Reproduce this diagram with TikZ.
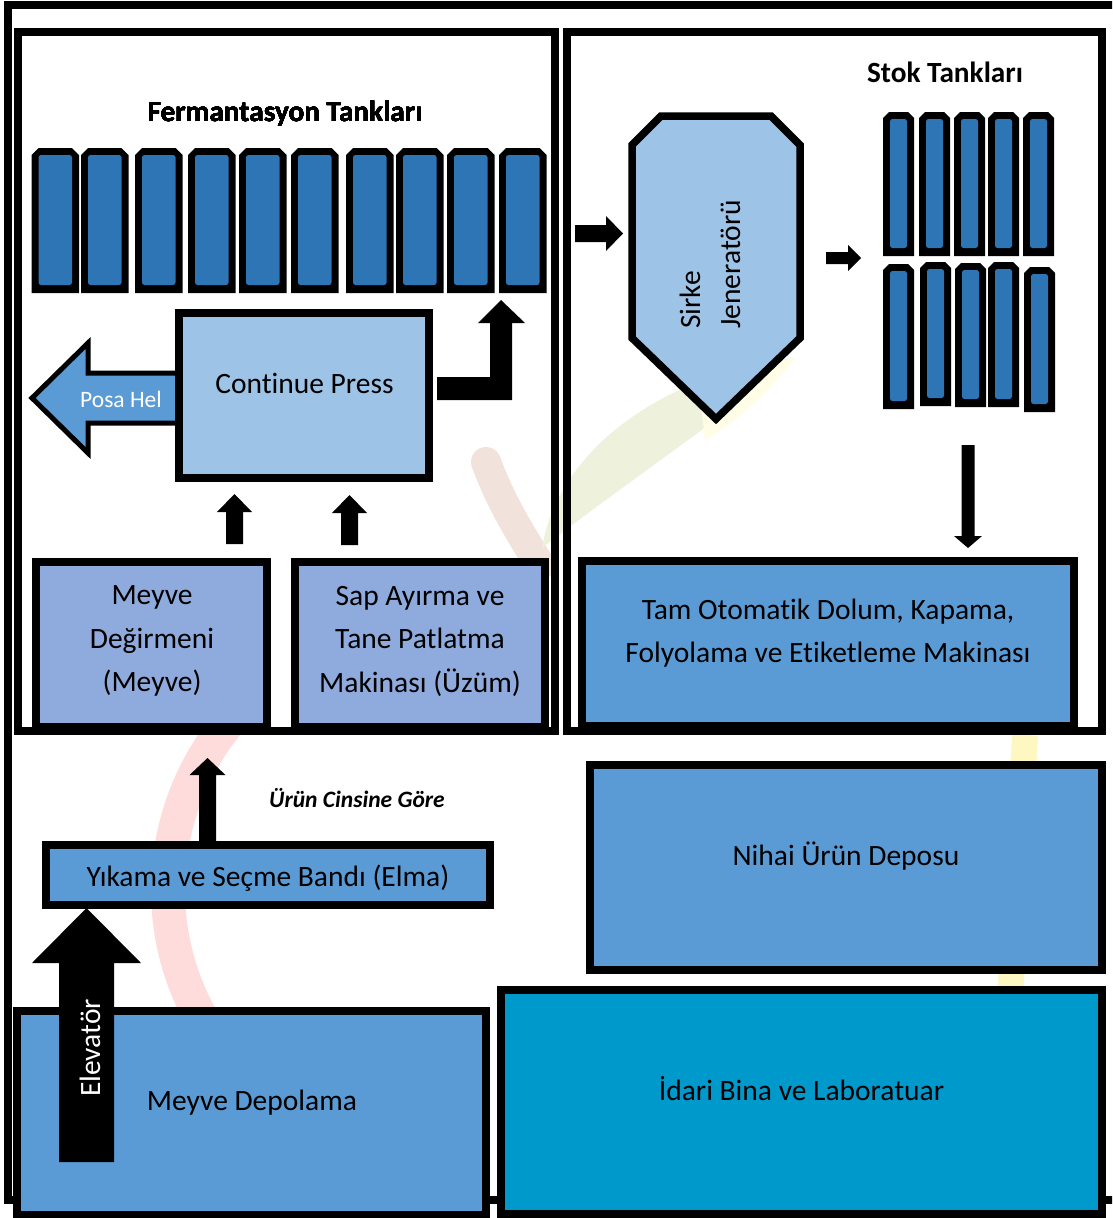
\documentclass[tikz,border=0pt]{standalone}
\usepackage{fontspec}
\setmainfont{Carlito}[Ligatures=CommonOff]
\definecolor{tankblue}{HTML}{2E75B6}
\definecolor{lightblue}{HTML}{9DC3E6}
\definecolor{midblue}{HTML}{5B9BD5}
\definecolor{lavblue}{HTML}{8FAADC}
\definecolor{cyanblue}{HTML}{0099CC}
\definecolor{wmpink}{HTML}{FFDCDC}
\definecolor{wmstem}{HTML}{F2E2DC}
\definecolor{wmgreen}{HTML}{EEF2DD}
\definecolor{wmcream}{HTML}{FFFDE6}
\definecolor{wmyellow}{HTML}{FFF7C2}
% tank: x y w h chamfer
\newcommand\tankshape[5]{%
  \fill[black] ({#1},{#2+#4}) -- ({#1},{#2+#5}) -- ({#1+#5},{#2}) -- ({#1+#3-#5},{#2}) -- ({#1+#3},{#2+#5}) -- ({#1+#3},{#2+#4}) -- cycle;
  \fill[tankblue, rounded corners=2.5] ({#1+7},{#2+#4-8}) rectangle ({#1+#3-7},{#2+7});}
% block arrows
\newcommand\upblk[6]{% x, ybottom, ytip, shaft, head, headlen
  \fill[black] ({#1-#4/2},{#2}) -- ({#1-#4/2},{#3+#6}) -- ({#1-#5/2},{#3+#6}) -- ({#1},{#3}) -- ({#1+#5/2},{#3+#6}) -- ({#1+#4/2},{#3+#6}) -- ({#1+#4/2},{#2}) -- cycle;}
\newcommand\rightblk[6]{% y, xleft, xtip, shaft, head, headlen
  \fill[black] ({#2},{#1-#4/2}) -- ({#3-#6},{#1-#4/2}) -- ({#3-#6},{#1-#5/2}) -- ({#3},{#1}) -- ({#3-#6},{#1+#5/2}) -- ({#3-#6},{#1+#4/2}) -- ({#2},{#1+#4/2}) -- cycle;}
\newcommand\downblk[6]{% x, ytop, ytip, shaft, head, headlen
  \fill[black] ({#1-#4/2},{#2}) -- ({#1-#4/2},{#3-#6}) -- ({#1-#5/2},{#3-#6}) -- ({#1},{#3}) -- ({#1+#5/2},{#3-#6}) -- ({#1+#4/2},{#3-#6}) -- ({#1+#4/2},{#2}) -- cycle;}
\begin{document}
\begin{tikzpicture}[x=1pt,y=-1pt,
  box/.style={draw=black, line width=8pt, rectangle, inner sep=0pt, outer sep=0pt},
  lbl/.style={font=\fontsize{29.5}{43.5}\selectfont, align=center, inner sep=0pt, text=black},
  ttl/.style={font=\bfseries\fontsize{29.3}{35}\selectfont, inner sep=0pt}]
\useasboundingbox (0,0) rectangle (1112,1218);
\clip (0,0) rectangle (1112,1218);
\fill[white] (0,0) rectangle (1112,1218);
% faint watermark logo
\draw[line width=34pt, wmpink] (430,890) ++(140:262) arc[start angle=140, end angle=228, radius=262];
\draw[line width=30pt, wmstem, line cap=round] (486,462) .. controls (500,500) and (518,530) .. (540,565);
\fill[wmgreen] (542,548) .. controls (560,440) and (680,370) .. (795,358) .. controls (720,420) and (630,480) .. (542,548) -- cycle;
\fill[wmcream] (700,395) .. controls (740,375) and (770,362) .. (795,358) .. controls (770,390) and (740,420) .. (705,440) -- cycle;
\draw[line width=26pt, wmyellow] (1025,735) -- (1010,1000);
% outer frame and sections
\draw[line width=8pt] (8,5) rectangle (1140,1200);
\node[box, minimum width=537, minimum height=699] (leftsec) at (286.5,381.5) {};
\node[box, minimum width=535, minimum height=699] (rightsec) at (834.5,381.5) {};
% fermentation tanks
\foreach \tx in {31.5,81,135,188,239,291,346,396,447,499}
  \tankshape{\tx}{148}{47.5}{145}{7}
\node[ttl, anchor=base] (fermttl) at (285,121) {Fermantasyon Tankları};
% press area
\filldraw[fill=midblue, draw=black, line width=5pt, line join=miter] (182,373) -- (88,373) -- (88,343) -- (32,398) -- (88,453) -- (88,423) -- (182,423);
\node[box, fill=lightblue, minimum width=250, minimum height=165] (cpress) at (304,395.5) {};
\node[font=\fontsize{23.5}{28}\selectfont, text=white, inner sep=0pt, anchor=base] (posalbl) at (121,407) {Posa Hel};
\node[lbl, anchor=base] (cpresslbl) at (304.5,393) {Continue Press};
\fill[black] (437,377) -- (490,377) -- (490,323) -- (478,323) -- (501,300) -- (525,323) -- (512,323) -- (512,400) -- (437,400) -- cycle;
\upblk{234.5}{544}{494}{17}{35}{18}
\upblk{349.5}{545}{495}{17}{35}{18}
\node[box, fill=lavblue, minimum width=231, minimum height=165] (mill) at (151.5,644.5) {};
\node[box, fill=lavblue, minimum width=250.5, minimum height=165] (sap) at (419.75,644.5) {};
\node[lbl] (milllbl) at (152,641) {Meyve\\Değirmeni\\(Meyve)};
\node[lbl] (saplbl) at (420,641) {Sap Ayırma ve\\Tane Patlatma\\Makinası (Üzüm)};
% vinegar side
\rightblk{233.5}{575}{623}{17}{35}{17}
\filldraw[fill=lightblue, draw=black, line width=7.5pt, line join=miter] (632,145) -- (661,116) -- (771,116) -- (800,145) -- (800,338) -- (716,419) -- (632,338) -- cycle;
\coordinate (sirke) at (716,265);
\node[lbl, rotate=90, anchor=west, align=left, font=\fontsize{29.5}{40}\selectfont] (sirkelbl) at (710,329) {Sirke\\Jeneratörü};
\rightblk{258}{826}{861}{12}{26}{13}
\node[ttl, anchor=base] (stokttl) at (945,82) {Stok Tankları};
\tankshape{883}{112}{31}{144}{6}
\tankshape{919}{112}{31}{144}{6}
\tankshape{954}{112}{31}{144}{6}
\tankshape{988}{112}{31}{144}{6}
\tankshape{1023}{112}{31}{144}{6}
\tankshape{883}{264}{31}{145}{6}
\tankshape{920}{262}{31}{144}{6}
\tankshape{955}{263}{31}{144}{6}
\tankshape{988}{262}{31}{145}{6}
\tankshape{1024}{267}{31}{145}{6}
\downblk{968}{445}{548}{13}{28}{12}
\node[box, fill=midblue, minimum width=492.5, minimum height=165] (tam) at (827.75,643.5) {};
\node[lbl] (tamlbl) at (828,633) {Tam Otomatik Dolum, Kapama,\\Folyolama ve Etiketleme Makinası};
% lower area
\upblk{207.5}{845}{758}{17}{36}{17}
\node[font=\bfseries\itshape\fontsize{23.5}{28}\selectfont, inner sep=0pt, anchor=base] (urunlbl) at (357,807) {Ürün Cinsine Göre};
\node[box, fill=midblue, minimum width=444, minimum height=59.5] (yikama) at (268,874.75) {};
\node[lbl, anchor=base] (yikamalbl) at (268,886) {Yıkama ve Seçme Bandı (Elma)};
\node[box, fill=midblue, minimum width=512, minimum height=204.5] (nihai) at (846,867.25) {};
\node[lbl, anchor=base] (nihailbl) at (846,865) {Nihai Ürün Deposu};
\node[box, fill=midblue, minimum width=469, minimum height=204.5] (depo) at (251,1112.75) {};
\node[lbl, anchor=base] (depolbl) at (252,1110) {Meyve Depolama};
\node[box, fill=cyanblue, minimum width=601, minimum height=224.5] (idari) at (801.5,1101.75) {};
\node[lbl, anchor=base] (idarilbl) at (801.5,1100) {İdari Bina ve Laboratuar};
\upblk{86.5}{1162}{908}{55}{109}{55}
\node[lbl, rotate=90, text=white] (elevlbl) at (90,1048) {Elevatör};
\end{tikzpicture}
\end{document}
